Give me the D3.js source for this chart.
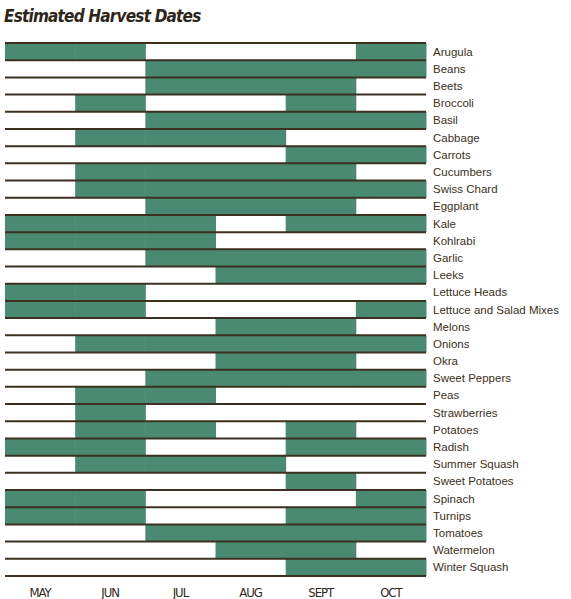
<!DOCTYPE html><html><head><meta charset="utf-8"><script src="https://cdn.jsdelivr.net/npm/d3@7"></script>
<style>body{margin:0;background:#fff}</style></head><body><svg id="c" width="571" height="599"></svg>
<script>
const months=["MAY","JUN","JUL","AUG","SEPT","OCT"];
const crops=["Arugula","Beans","Beets","Broccoli","Basil","Cabbage","Carrots","Cucumbers","Swiss Chard","Eggplant","Kale","Kohlrabi","Garlic","Leeks","Lettuce Heads","Lettuce and Salad Mixes","Melons","Onions","Okra","Sweet Peppers","Peas","Strawberries","Potatoes","Radish","Summer Squash","Sweet Potatoes","Spinach","Turnips","Tomatoes","Watermelon","Winter Squash"];
const harvest=["110001","001111","001110","010010","001111","011100","000011","011110","011111","001110","111011","111000","001111","000111","110000","110001","000110","011111","000110","001111","011000","010000","011010","110011","011100","000010","110001","110011","001111","000110","000011"];
const svg=d3.select("#c");
const x=d3.scaleBand().domain(months).range([5,426]).padding(0);
const y=d3.scaleBand().domain(crops).range([43,576]).padding(0);
const cells=[];
crops.forEach((c,i)=>months.forEach((m,j)=>{if(harvest[i][j]==="1")cells.push({c,m});}));
svg.selectAll("rect.cell").data(cells).join("rect").attr("x",d=>x(d.m)).attr("y",d=>y(d.c)).attr("width",x.bandwidth()+0.5).attr("height",y.bandwidth()).attr("fill","#4a8a72");
const lines=crops.map(c=>y(c)).concat([576]);
svg.selectAll("line.r").data(lines).join("line").attr("x1",5).attr("x2",426).attr("y1",d=>d).attr("y2",d=>d).attr("stroke","#3b3022").attr("stroke-width",2);
svg.selectAll("text.l").data(crops).join("text").attr("x",433).attr("y",d=>y(d)+y.bandwidth()/2+4).text(d=>d).attr("font-family","Liberation Sans, Arial").attr("font-size",11.5).attr("fill","#3b3022");
svg.selectAll("text.m").data(months).join("text").attr("x",d=>x(d)+x.bandwidth()/2).attr("y",597).attr("text-anchor","middle").text(d=>d).attr("font-family","DejaVu Sans Condensed").attr("font-size",13).attr("transform-origin","").attr("fill","#2e2619").attr("letter-spacing",-1);
svg.append("text").attr("x",4).attr("y",22).text("Estimated Harvest Dates").attr("font-family","DejaVu Sans Condensed").attr("font-style","italic").attr("font-weight","bold").attr("font-size",17).attr("letter-spacing",-0.8).attr("fill","#2e2619");
</script></body></html>
